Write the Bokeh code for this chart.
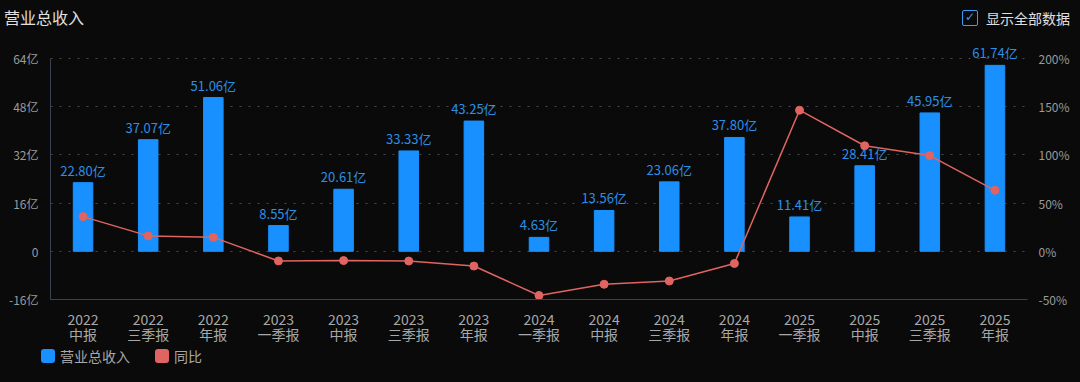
from bokeh.plotting import figure
from bokeh.models import (FactorRange, Range1d, LinearAxis, FixedTicker, ColumnDataSource,
                          LabelSet, Div)
from bokeh.layouts import column
from bokeh.core.properties import value
from bokeh.embed import file_html
from bokeh.resources import INLINE
from jinja2 import Template

years = ["2022", "2022", "2022", "2023", "2023", "2023", "2023", "2024", "2024", "2024", "2024",
         "2025", "2025", "2025", "2025"]
periods = ["中报", "三季报", "年报", "一季报", "中报", "三季报", "年报", "一季报", "中报", "三季报", "年报",
           "一季报", "中报", "三季报", "年报"]
revenue = [22.80, 37.07, 51.06, 8.55, 20.61, 33.33, 43.25, 4.63, 13.56, 23.06, 37.80,
           11.41, 28.41, 45.95, 61.74]
yoy = [36.0, 16.0, 14.5, -10.0, -9.6, -10.1, -15.3, -45.8, -34.2, -30.8, -12.6,
       146.4, 109.5, 99.3, 63.3]
left_ticks = [-16, 0, 16, 32, 48, 64]
right_ticks = [-50, 0, 50, 100, 150, 200]
series_names = ["营业总收入", "同比"]

cats = [f"{y}\n{q}" for y, q in zip(years, periods)]
labels = [f"{v:.2f}亿" for v in revenue]

FONT = "Noto Sans CJK SC"
BG = "#0a0a0a"
BLUE = "#1890ff"
RED = "#e06461"
W = 1072

# left range is padded at the top so value labels fit; right range keeps the same proportions
L0, L1 = -16, 69
R0 = -50
R1 = R0 + (L1 - L0) * (200 - R0) / (64 - L0)

src = ColumnDataSource(dict(x=cats, rev=revenue, yoy=yoy, lab=labels))

header = Div(width=W, height=35, margin=0, text=(
    f"<div style=\"display:flex;justify-content:space-between;align-items:center;"
    f"width:{W}px;height:35px;background:{BG};font-family:'{FONT}';\">"
    f"<span style=\"color:#e0e0e0;font-size:16px;padding-left:4px;\">营业总收入</span>"
    f"<span style=\"display:flex;align-items:center;color:#e0e0e0;font-size:14px;padding-right:2px;\">"
    f"<span style=\"display:inline-block;box-sizing:border-box;width:16px;height:16px;"
    f"border:1.5px solid #3d9cf2;border-radius:2px;color:#3d9cf2;font-size:12px;line-height:13px;"
    f"text-align:center;margin-right:8px;font-family:'DejaVu Sans';\">✓</span>显示全部数据</span>"
    f"</div>"))


def legend_item(color, name, gap):
    return (f"<span style=\"display:inline-flex;align-items:center;margin-right:{gap}px;\">"
            f"<span style=\"display:inline-block;width:14px;height:14px;border-radius:3px;"
            f"background:{color};margin-right:5px;\"></span>{name}</span>")


footer = Div(width=W, height=20, margin=0, text=(
    f"<div style=\"display:flex;align-items:center;width:{W}px;height:20px;background:{BG};"
    f"font-family:'{FONT}';font-size:14px;color:#a8a8a8;padding-left:41px;box-sizing:border-box;\">"
    + legend_item(BLUE, series_names[0], 25) + legend_item(RED, series_names[1], 0)
    + "</div>"))

p = figure(x_range=FactorRange(factors=cats, range_padding=0),
           y_range=Range1d(L0, L1), width=W, height=311,
           output_backend="svg", toolbar_location=None,
           min_border_left=50, min_border_right=41, min_border_top=8, min_border_bottom=41)
p.background_fill_color = BG
p.border_fill_color = BG
p.outline_line_color = None
p.extra_y_ranges = {"pct": Range1d(R0, R1)}

p.vbar(x="x", top="rev", width=0.3, source=src, color=BLUE)
p.line(x="x", y="yoy", source=src, y_range_name="pct", color=RED, line_width=1.5)
p.scatter(x="x", y="yoy", source=src, y_range_name="pct", color=RED, size=8)

p.add_layout(LabelSet(x="x", y="rev", text="lab", source=src, text_align="center",
                      text_baseline="bottom", y_offset=3, text_color="#2b8fe6",
                      text_font=value(FONT), text_font_size="13px"))

# axes
p.xaxis.axis_line_color = "#3a4150"
p.xaxis.major_tick_line_color = None
p.xaxis.minor_tick_line_color = None
p.xaxis.major_tick_out = 0
p.xaxis.major_label_standoff = 9
p.xaxis.major_label_text_color = "#a8a8a8"
p.xaxis.major_label_text_font = FONT
p.xaxis.major_label_text_font_size = "14px"
p.xaxis.major_label_text_line_height = 0.75

ly = p.yaxis[0]
ly.ticker = FixedTicker(ticks=left_ticks)
ly.bounds = (-16, 64)
ly.major_label_overrides = {t: (f"{t}亿" if t != 0 else "0") for t in left_ticks}
ly.axis_line_color = "#3a4150"
ly.major_tick_line_color = None
ly.minor_tick_line_color = None
ly.major_tick_out = 0
ly.major_label_standoff = 12
ly.major_label_text_color = "#9a9a9a"
ly.major_label_text_font = FONT
ly.major_label_text_font_size = "12px"

ry = LinearAxis(y_range_name="pct", ticker=FixedTicker(ticks=right_ticks), bounds=(-50, 200))
ry.major_label_overrides = {t: f"{t}%" for t in right_ticks}
ry.axis_line_color = None
ry.major_tick_line_color = None
ry.minor_tick_line_color = None
ry.major_tick_out = 0
ry.major_label_standoff = 11
ry.major_label_text_color = "#9a9a9a"
ry.major_label_text_font = FONT
ry.major_label_text_font_size = "12px"
p.add_layout(ry, "right")

p.xgrid.grid_line_color = None
p.ygrid.ticker = FixedTicker(ticks=left_ticks)
p.ygrid.grid_line_color = "#4a4a4a"
p.ygrid.grid_line_dash = "2 7"

layout = column(header, p, footer, spacing=0, styles={"background-color": BG})

template = Template(
    "{% extends base %}"
    "{% block postamble %}<style>html, body { background-color: " + BG + "; }</style>{% endblock %}"
)
open("out.html", "w").write(file_html(layout, INLINE, template=template))
